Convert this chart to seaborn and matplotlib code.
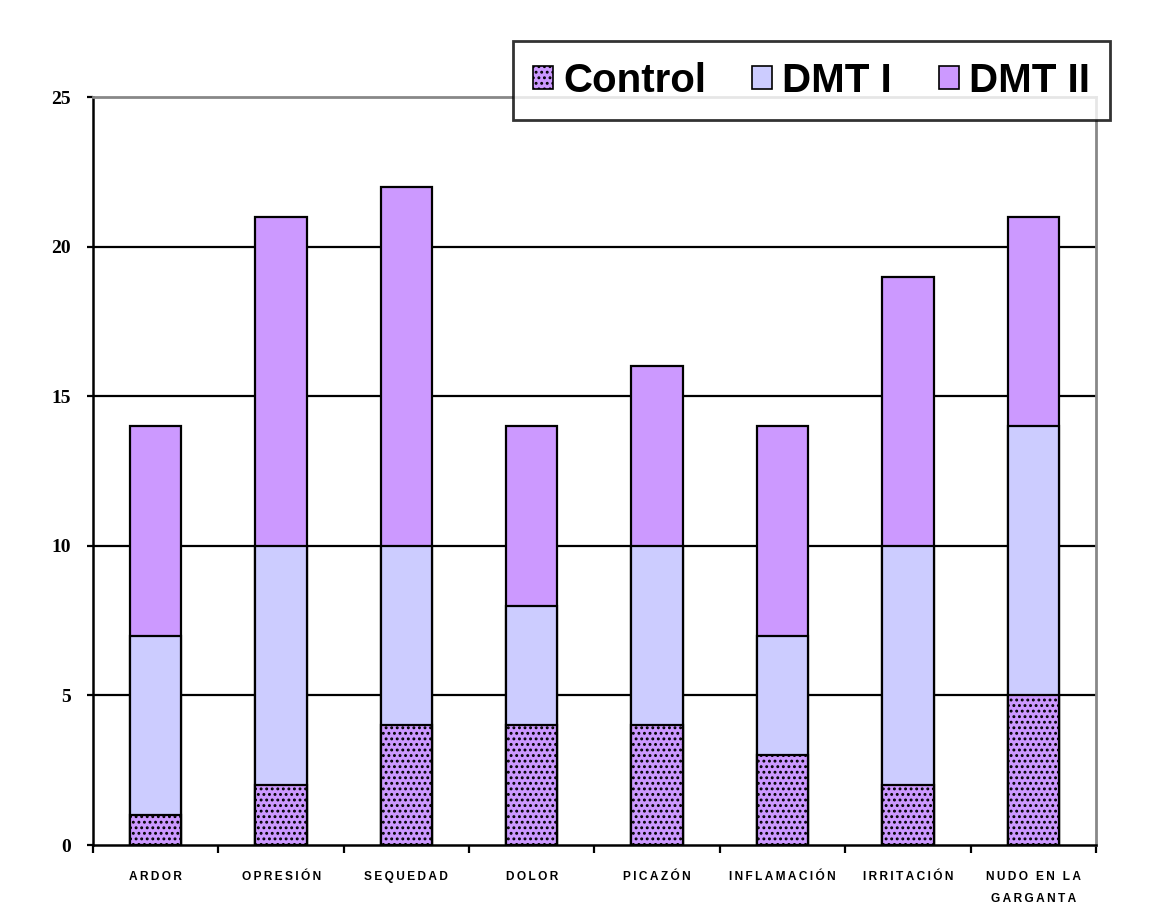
import numpy as np
import pandas as pd
import matplotlib
matplotlib.use("Agg")
import matplotlib.pyplot as plt
from matplotlib.patches import Patch
import seaborn as sns

# data
categories = ["ARDOR", "OPRESIÓN", "SEQUEDAD", "DOLOR", "PICAZÓN",
              "INFLAMACIÓN", "IRRITACIÓN", "NUDO EN LA\nGARGANTA"]
control = [1, 2, 4, 4, 4, 3, 2, 5]
dmt1 = [6, 8, 6, 4, 6, 4, 8, 9]
dmt2 = [7, 11, 12, 6, 6, 7, 9, 7]
series_names = ["Control", "DMT I", "DMT II"]
yticks = [0, 5, 10, 15, 20, 25]

col_control = "#CC99FF"
col_dmt1 = "#CCCCFF"
col_dmt2 = "#CC99FF"

sns.set_style("white")
plt.rcParams["hatch.linewidth"] = 1.3
plt.rcParams["text.color"] = "black"
plt.rcParams["xtick.color"] = "black"
plt.rcParams["ytick.color"] = "black"

df = pd.DataFrame({"cat": categories, "Control": control, "DMT I": dmt1, "DMT II": dmt2})
df["c1"] = df["Control"] + df["DMT I"]
df["c2"] = df["c1"] + df["DMT II"]

fig = plt.figure(figsize=(11.54, 9.16), dpi=100)
ax = fig.add_axes([0.0806, 0.0775, 0.8691, 0.8165])

# stacked bars drawn as overlaid cumulative totals
sns.barplot(data=df, x="cat", y="c2", color=col_dmt2, width=0.41, saturation=1,
            edgecolor="black", linewidth=1.6, ax=ax, zorder=3)
sns.barplot(data=df, x="cat", y="c1", color=col_dmt1, width=0.41, saturation=1,
            edgecolor="black", linewidth=1.6, ax=ax, zorder=3)
sns.barplot(data=df, x="cat", y="Control", color=col_control, width=0.41, saturation=1,
            edgecolor="black", linewidth=1.6, hatch="...", ax=ax, zorder=3)

ax.set_ylim(0, 25)
ax.set_xlim(-0.5, 7.5)
for v in yticks[1:-1]:
    ax.axhline(v, color="black", lw=1.6, zorder=1)

ax.set_xlabel("")
ax.set_ylabel("")

# y axis
ax.set_yticks(yticks)
ax.set_yticklabels([str(v) for v in yticks], fontfamily="Liberation Serif",
                   fontweight="bold", fontsize=14)
ax.tick_params(axis="y", direction="out", length=4, width=1.6, pad=12, left=True)

# x axis: labels at centers, tick marks between categories
thin = "\u2009"
spaced = ["\n".join(thin.join(list(w)) for w in c.split("\n")) for c in categories]
ax.set_xticks(range(len(categories)))
ax.set_xticklabels(spaced, fontfamily=["Liberation Sans", "DejaVu Sans"], fontweight="bold",
                   fontsize=8.6, va="top", linespacing=2.1)
ax.tick_params(axis="x", which="major", length=0, pad=19)
ax.set_xticks(np.arange(-0.5, len(categories), 1.0), minor=True)
ax.tick_params(axis="x", which="minor", direction="out", length=6, width=1.6, bottom=True)

for s in ["left", "bottom"]:
    ax.spines[s].set_color("black")
    ax.spines[s].set_linewidth(1.8)
for s in ["top", "right"]:
    ax.spines[s].set_color("#888888")
    ax.spines[s].set_linewidth(2)

handles = [Patch(facecolor=col_control, edgecolor="black", hatch="...", lw=1.2),
           Patch(facecolor=col_dmt1, edgecolor="black", lw=1.2),
           Patch(facecolor=col_dmt2, edgecolor="black", lw=1.2)]
leg = fig.legend(handles, series_names, loc="center", bbox_to_anchor=(0.703, 0.912),
                 ncol=3, frameon=True, fancybox=False, shadow=False,
                 handlelength=0.5, handleheight=0.5, handletextpad=0.25,
                 columnspacing=1.15, borderpad=0.5,
                 prop={"family": "Liberation Sans", "weight": "bold", "size": 29})
leg.get_frame().set_edgecolor("black")
leg.get_frame().set_linewidth(2)
leg.set_zorder(10)

fig.savefig("out.png", dpi=100, facecolor="white")
